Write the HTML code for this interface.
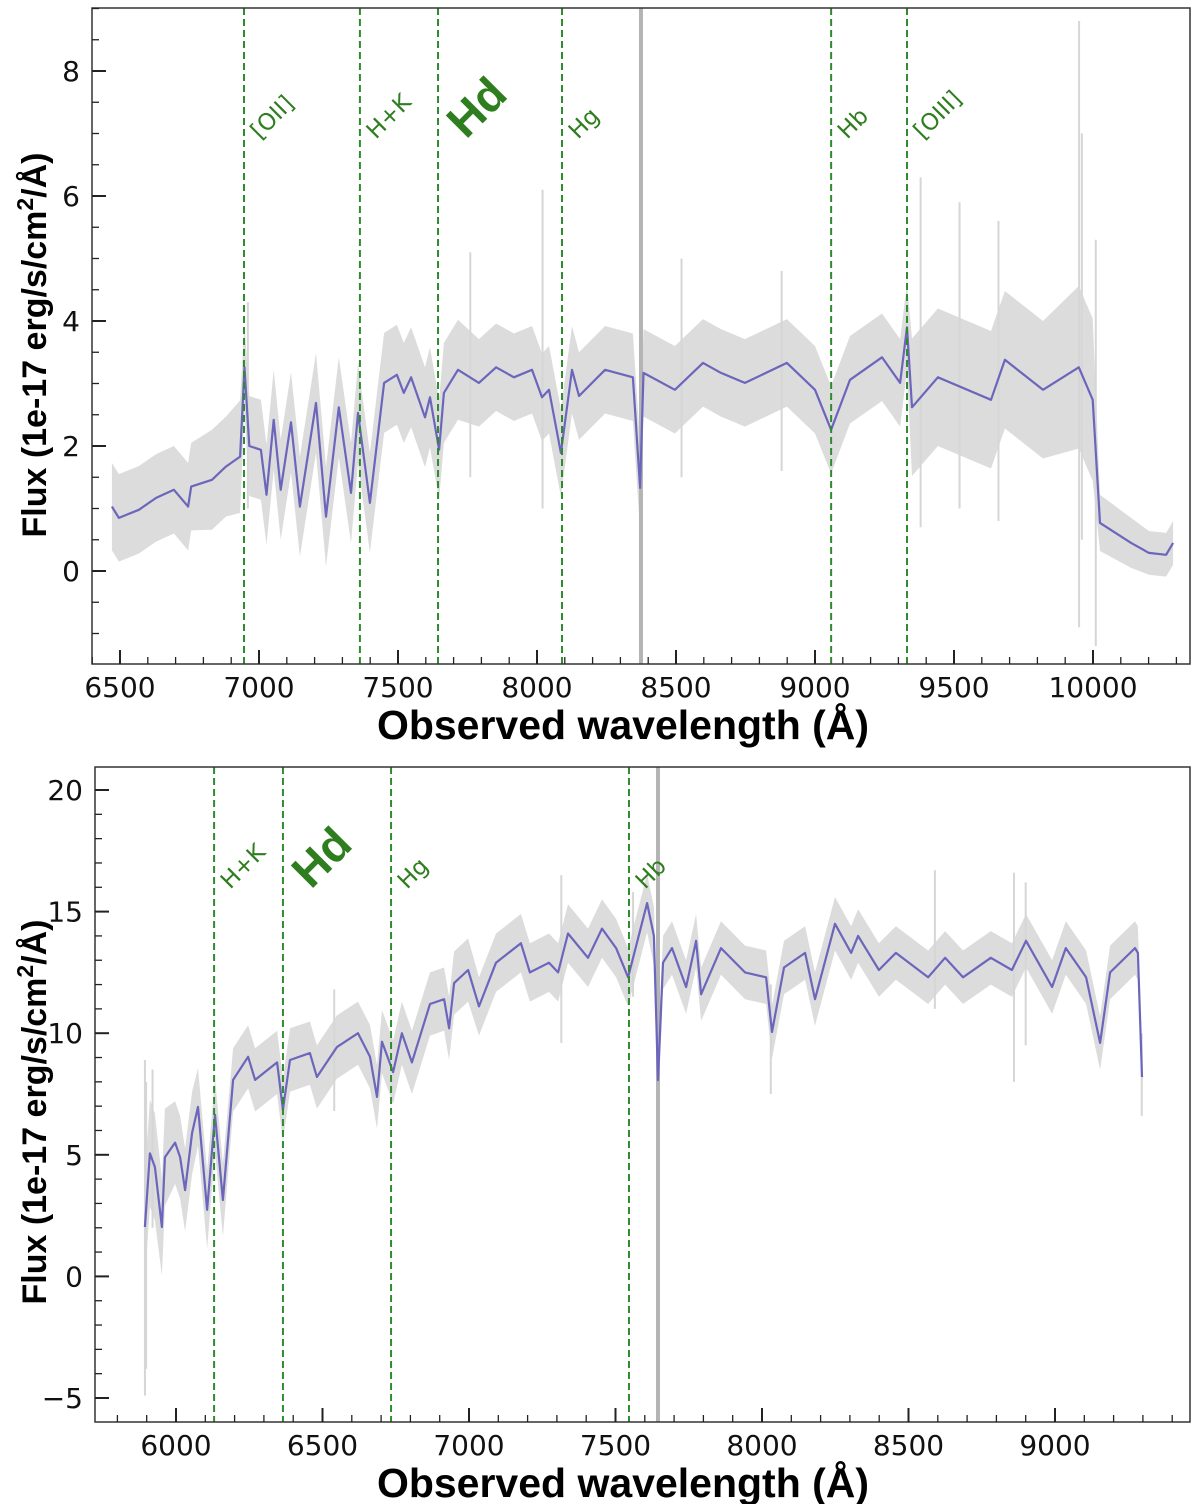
<!DOCTYPE html>
<html><head><meta charset="utf-8"><style>
body{margin:0;background:#fff}
svg{display:block}
</style></head><body>
<svg id="fig" width="1200" height="1504" viewBox="0 0 1200 1504" xmlns="http://www.w3.org/2000/svg"></svg>
<script>
// ---------- Panel 1 data ----------
const wl1 = [6471,6496,6568,6630,6694,6745,6756,6831,6881,6932,6948,6965,7007,7027,7053,7078,7115,7147,7205,7241,7287,7331,7356,7399,7450,7496,7521,7547,7597,7615,7648,7665,7716,7791,7853,7917,7982,8018,8043,8086,8126,8151,8245,8345,8371,8383,8496,8597,8662,8748,8899,9000,9058,9126,9241,9306,9331,9349,9442,9633,9683,9820,9949,9999,10025,10137,10201,10263,10288];
const flux1 = [1.03,0.85,0.98,1.17,1.30,1.03,1.35,1.46,1.67,1.83,3.26,2.0,1.94,1.22,2.42,1.30,2.38,1.03,2.69,0.87,2.62,1.25,2.53,1.09,3.01,3.14,2.85,3.10,2.46,2.78,1.94,2.85,3.22,3.01,3.26,3.10,3.22,2.78,2.90,1.89,3.22,2.80,3.22,3.10,1.33,3.17,2.90,3.33,3.17,3.01,3.33,2.90,2.26,3.06,3.42,3.01,3.90,2.62,3.10,2.74,3.38,2.90,3.26,2.74,0.77,0.45,0.29,0.26,0.45];
const noise1 = [0.7,0.7,0.7,0.7,0.7,0.7,0.7,0.8,0.8,0.9,0.7,0.8,0.8,0.8,0.8,0.8,0.8,0.8,0.8,0.8,0.8,0.8,0.8,0.8,0.8,0.8,0.8,0.8,0.8,0.8,0.8,0.8,0.8,0.7,0.7,0.7,0.7,0.7,0.7,0.7,0.7,0.7,0.7,0.7,0.7,0.7,0.7,0.7,0.7,0.7,0.7,0.7,0.7,0.7,0.7,0.7,0.7,1.1,1.1,1.1,1.1,1.1,1.3,1.3,0.45,0.4,0.35,0.35,0.35];
const spikeWl1 = [6960,7760,8020,8520,8880,9380,9520,9660,9950,9960,10010];
const spikeLo1 = [1.0,1.5,1.0,1.5,1.6,0.7,1.0,0.8,-0.9,0.5,-1.2];
const spikeHi1 = [4.3,5.1,6.1,5.0,4.8,6.3,5.9,5.6,8.8,7.0,5.3];
const lines1 = [6946,7363,7644,8090,9058,9331];
const lineLabels1 = ["[OII]","H+K","Hd","Hg","Hb","[OIII]"];
const xTicks1 = [6500,7000,7500,8000,8500,9000,9500,10000];
const yTicks1 = [0,2,4,6,8];
const badPix1 = 8374;

// ---------- Panel 2 data ----------
const wl2 = [5894,5911,5928,5952,5962,5997,6014,6031,6055,6075,6106,6133,6160,6195,6246,6270,6345,6365,6389,6457,6481,6549,6621,6662,6686,6703,6741,6771,6805,6867,6915,6932,6949,6997,7034,7092,7177,7208,7273,7304,7338,7406,7454,7502,7543,7608,7631,7645,7662,7693,7741,7775,7792,7860,7942,8014,8034,8075,8147,8181,8249,8304,8328,8399,8457,8567,8625,8686,8781,8853,8901,8990,9037,9106,9154,9188,9273,9283,9297];
const flux2 = [2.03,5.06,4.5,2.03,4.9,5.5,4.9,3.55,5.9,6.97,2.74,6.64,3.14,8.08,9.03,8.08,8.8,6.85,8.9,9.18,8.2,9.43,10.0,9.03,7.38,9.65,8.4,10.0,8.8,11.2,11.4,10.2,12.06,12.6,11.1,12.9,13.7,12.5,12.9,12.5,14.1,13.1,14.3,13.5,12.3,15.35,14.0,8.07,12.9,13.5,11.9,13.8,11.6,13.5,12.5,12.3,10.05,12.7,13.3,11.4,14.5,13.3,14.0,12.6,13.3,12.3,13.1,12.3,13.1,12.6,13.8,11.9,13.5,12.3,9.6,12.5,13.5,13.3,8.2];
const noise2 = [2.2,2.2,2.2,2.0,2.0,1.7,1.7,1.7,1.7,1.6,1.6,1.5,1.5,1.3,1.3,1.3,1.3,1.3,1.3,1.3,1.3,1.3,1.3,1.3,1.3,1.3,1.3,1.3,1.3,1.3,1.3,1.3,1.3,1.3,1.2,1.2,1.2,1.2,1.2,1.2,1.2,1.2,1.2,1.2,1.2,1.2,1.2,1.2,1.1,1.1,1.1,1.1,1.1,1.1,1.1,1.1,1.1,1.1,1.1,1.1,1.1,1.1,1.1,1.1,1.1,1.1,1.1,1.1,1.1,1.1,1.1,1.1,1.1,1.1,1.1,1.1,1.1,1.1,1.2];
const spikeWl2 = [5894,5898,5920,6540,7315,7560,8030,8590,8860,8900,9296];
const spikeLo2 = [-4.9,-3.8,2.0,6.8,9.6,11.5,7.5,11.0,8.0,9.5,6.6];
const spikeHi2 = [8.9,8.0,8.5,11.8,16.5,15.8,12.0,16.7,16.6,16.2,10.0];
const lines2 = [6130,6365,6734,7546];
const lineLabels2 = ["H+K","Hd","Hg","Hb"];
const xTicks2 = [6000,6500,7000,7500,8000,8500,9000];
const yTicks2 = [-5,0,5,10,15,20];
const badPix2 = 7645;

const NS = "http://www.w3.org/2000/svg";
const svg = document.getElementById('fig');
const DJ = 'font-family:"DejaVu Sans","Liberation Sans",sans-serif';
const LB = 'font-family:"Liberation Sans",sans-serif';
function mk(tag, attrs, parent){
  const e = document.createElementNS(NS, tag);
  for (const k in attrs) e.setAttribute(k, attrs[k]);
  (parent||svg).appendChild(e);
  return e;
}

function panel(cfg){
  const g = mk('g', {});
  
  
  const X = v => cfg.x0px + (v - cfg.x0v) * cfg.xs;
  const Y = v => cfg.y0px - v * cfg.ys;
  const L = cfg.left, R = cfg.right, T = cfg.top, B = cfg.bottom;
  const clipId = cfg.name + '-clip';
  const cp = mk('clipPath', {id: clipId}, g);
  mk('rect', {x:L, y:T, width:R-L, height:B-T}, cp);
  const pg = mk('g', {'clip-path':'url(#'+clipId+')'}, g);

  let up = [], lo = [];
  for (let i=0;i<cfg.wl.length;i++){
    up.push(X(cfg.wl[i]).toFixed(1)+','+Y(cfg.flux[i]+cfg.noise[i]).toFixed(1));
    lo.push(X(cfg.wl[i]).toFixed(1)+','+Y(cfg.flux[i]-cfg.noise[i]).toFixed(1));
  }
  const band = mk('polygon', {points: up.concat(lo.reverse()).join(' '), fill:'#dcdcdc', stroke:'none'}, pg);
  
  
  for (let i=0;i<cfg.sw.length;i++){
    const s = mk('line', {x1:X(cfg.sw[i]), x2:X(cfg.sw[i]), y1:Y(cfg.slo[i]), y2:Y(cfg.shi[i]), stroke:'#d6d6d6', 'stroke-width':2}, pg);
    
    
  }
  const bp = mk('line', {x1:X(cfg.bad), x2:X(cfg.bad), y1:T, y2:B, stroke:'#b4b4b4', 'stroke-width':4}, pg);
  
  
  const pts = cfg.wl.map((w,i)=>X(w).toFixed(1)+','+Y(cfg.flux[i]).toFixed(1)).join(' ');
  const pl = mk('polyline', {points:pts, fill:'none', stroke:'#6b66bb', 'stroke-width':2.2, 'stroke-linejoin':'round'}, pg);
  
  
  cfg.lines.forEach((w,i)=>{
    const ln = mk('line', {x1:X(w), x2:X(w), y1:T, y2:B, stroke:'#2e8b2e', 'stroke-width':2, 'stroke-dasharray':'7,4'}, g);
    
    
    const big = cfg.labels[i]==='Hd';
    const tx = X(w)+ (big?28:16), ty = cfg.labelY;
    const t = mk('text', {x:tx, y:ty, fill:'#2e7d1e', 'font-size': big?46:23, 'font-weight': big?'bold':'normal',
      style: big?LB:DJ, transform:'rotate(-45 '+tx+' '+ty+')'}, g);
    t.textContent = cfg.labels[i];
    
    
  });
  const fr = mk('rect', {x:L, y:T, width:R-L, height:B-T, fill:'none', stroke:'#333', 'stroke-width':1.5}, g);
  
  
  for (let v = cfg.xMinor0; X(v) < R; v += 100){
    if (X(v) <= L) continue;
    const major = v % 500 === 0;
    mk('line', {x1:X(v), x2:X(v), y1:B, y2:B-(major?14:7), stroke:'#222', 'stroke-width':major?2:1.3}, g);
  }
  cfg.xt.forEach(v=>{
    const t = mk('text', {x:X(v), y:B+33, 'text-anchor':'middle', 'font-size':28, fill:'#111', style:DJ}, g);
    t.textContent = v;
    
    
  });
  for (let v = cfg.yMinor0; Y(v) > T; v += cfg.yMinorStep){
    if (Y(v) >= B) continue;
    const major = cfg.yt.some(m=>Math.abs(m-v)<1e-6);
    mk('line', {x1:L, x2:L+(major?14:7), y1:Y(v), y2:Y(v), stroke:'#222', 'stroke-width':major?2:1.3}, g);
  }
  cfg.yt.forEach(v=>{
    const t = mk('text', {x:L-12, y:Y(v)+10, 'text-anchor':'end', 'font-size':28, fill:'#111', style:DJ}, g);
    t.textContent = v < 0 ? '\u2212' + Math.abs(v) : v;
    
    
  });
  const xt = mk('text', {x:623, y:B+75, 'text-anchor':'middle', 'font-size':41, 'font-weight':'bold', style:LB, fill:'#000'}, g);
  xt.textContent = 'Observed wavelength (\u00C5)';
  
  
  const cy = cfg.yTitleCy;
  const yt = mk('text', {x:46, y:cy, 'text-anchor':'middle', 'font-size':34, 'font-weight':'bold', style:LB, fill:'#000', transform:'rotate(-90 46 '+cy+')'}, g);
  yt.innerHTML = 'Flux (1e-17 erg/s/cm<tspan dy="-13" font-size="23">2</tspan><tspan dy="13">/\u00C5)</tspan>';
  
  
}

panel({name:'top-panel', left:92, right:1190, top:8, bottom:664,
  x0v:6500, x0px:120, xs:0.278, y0px:571, ys:62.5,
  wl:wl1, flux:flux1, noise:noise1, sw:spikeWl1, slo:spikeLo1, shi:spikeHi1,
  lines:lines1, labels:lineLabels1, labelY:140, bad:badPix1, yTitleCy:345,
  xt:xTicks1, yt:yTicks1, xMinor0:6400, yMinor0:-1, yMinorStep:0.5});
panel({name:'bottom-panel', left:95, right:1190, top:767, bottom:1422,
  x0v:6000, x0px:176, xs:0.293, y0px:1276.4, ys:24.32,
  wl:wl2, flux:flux2, noise:noise2, sw:spikeWl2, slo:spikeLo2, shi:spikeHi2,
  lines:lines2, labels:lineLabels2, labelY:890, bad:badPix2, yTitleCy:1112,
  xt:xTicks2, yt:yTicks2, xMinor0:5700, yMinor0:-6, yMinorStep:1});
</script>
</body></html>
